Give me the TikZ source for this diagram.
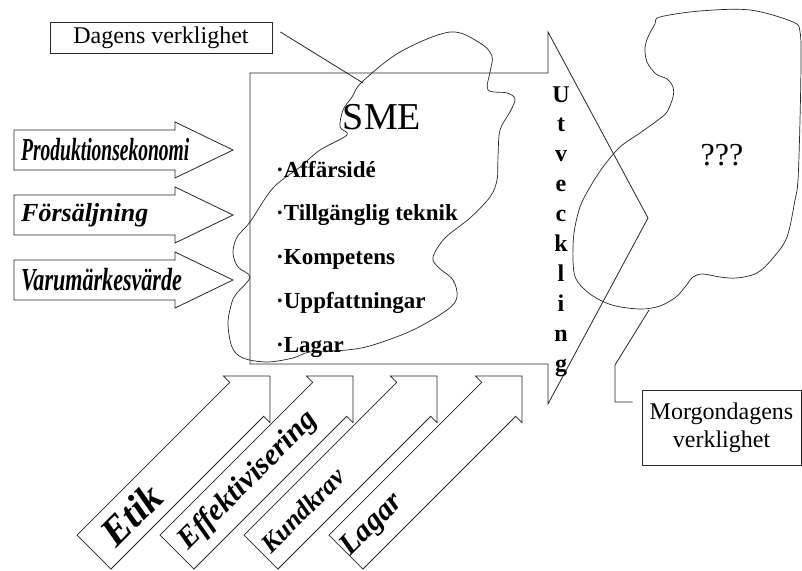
\documentclass[tikz,border=0pt]{standalone}
\usepackage{fontspec}
\setmainfont{Liberation Serif}
\usetikzlibrary{positioning}

\begin{document}
\begin{tikzpicture}[x=1pt, y=-1pt,
    outline/.style={draw=black!85, line width=0.8pt, line join=miter},
    wobble/.style={draw=black!85, line width=0.7pt},
    labelbox/.style={draw=black!85, line width=0.8pt, inner sep=0pt},
    inflow/.style={anchor=west, inner sep=0pt, font=\fontsize{32}{34}\selectfont\bfseries\itshape},
    item/.style={anchor=base west, inner sep=0pt, font=\fontsize{23}{25}\selectfont\bfseries},
    letter/.style={anchor=base, inner sep=0pt, font=\fontsize{24}{26}\selectfont\bfseries}]
	\fill[white] (0,0) rectangle (802,570);
	\useasboundingbox (0,0) rectangle (802,570);

	% big arrow (SME -> utveckling)
	\draw[outline] (250,73) -- (548,73) -- (548,32) -- (648,218) -- (548,404)
		-- (548,364) -- (250,364) -- cycle;

	% today
	\draw[wobble] plot[smooth cycle, tension=0.55] coordinates {
		(362,82) (400,52) (450,32) (480,43) (492,56) (490,72) (488,90) (507,93)
		(515,99) (510,112) (500,130) (498,157) (497,180) (490,197) (470,218)
		(445,238) (433,257) (438,267) (453,280) (457,297) (447,310) (413,330)
		(373,345) (347,350) (310,352) (293,358) (267,362) (243,358) (232,347)
		(228,323) (232,302) (237,293) (250,277) (238,267) (233,253) (237,237)
		(250,222) (273,188) (300,167) (320,150) (347,135) (340,127) (343,110)
		(352,97)};

	% tomorrow
	\draw[wobble] plot[smooth cycle, tension=0.55] coordinates {
		(660,17) (700,11) (750,10) (793,22) (800,32) (801,60) (800,120)
		(798,180) (795,200) (787,237) (773,258) (757,273) (737,278) (720,277)
		(703,274) (693,277) (685,287) (676,297) (660,306) (640,309) (612,305)
		(590,294) (576,279) (573,260) (574,233) (580,207) (590,187) (603,167)
		(620,147) (640,133) (658,120) (667,112) (673,97) (673,87) (667,79)
		(656,74) (647,62) (645,48) (648,37) (655,24)};

	\node (sme) at (382,117) {\fontsize{38}{40}\selectfont SME};
	\node[item] (i1) at (276,177) {\textperiodcentered Affärsidé};
	\node[item] (i2) at (276,220) {\textperiodcentered Tillgänglig teknik};
	\node[item] (i3) at (276,264) {\textperiodcentered Kompetens};
	\node[item] (i4) at (276,308) {\textperiodcentered Uppfattningar};
	\node[item] (i5) at (276,352) {\textperiodcentered Lagar};

	\foreach \l [count=\i from 0] in {U,t,v,e,c,k,l,i,n,g}
		\node[letter] (u\i) at (561,{102+29.9*\i}) {\l};

	\node (q) at (722,155) {\fontsize{32}{34}\selectfont ???};

	% inflows from the left
	\foreach \yc/\lab/\sx [count=\i] in {150/Produktionsekonomi/0.61, 215/\fontsize{26}{28}\selectfont Försäljning/1, 280/Varumärkesvärde/0.69} {
		\draw[outline, fill=white] (14,\yc-20) -- (175,\yc-20) -- (175,\yc-28) -- (233,\yc)
			-- (175,\yc+28) -- (175,\yc+20) -- (14,\yc+20) -- cycle;
		\node[inflow] (f\i) at (21,\yc) {\scalebox{\sx}[1]{\lab}};
	}

	% inflows from below
	\foreach \tx/\lab/\d/\fs [count=\i] in {270/Etik/196/40, 353/Effektivisering/148/30,
			437/Kundkrav/190/26, 522/Lagar/211/30} {
		\begin{scope}[shift={(\tx,376)}, rotate=45]
			\draw[outline, fill=white] (0,0) -- (-33,33) -- (-33,24) -- (-249,24)
				-- (-249,-24) -- (-33,-24) -- (-33,-33) -- cycle;
			\node[rotate=45, inner sep=0pt, font=\fontsize{\fs}{\fs}\selectfont\bfseries\itshape]
				(b\i) at (-\d,0) {\lab};
		\end{scope}
	}

	% labels
	\node[labelbox, minimum width=222, minimum height=31,
		font=\fontsize{24}{26}\selectfont] (dagens) at (161,37.5) {Dagens verklighet};
	\node[labelbox, minimum width=159, minimum height=75, align=center,
		font=\fontsize{24}{28}\selectfont] (morgon) at (721.5,427.5) {Morgondagens\\verklighet};

	\coordinate (dc) at (363,83);
	\coordinate (ds) at ([xshift=8pt, yshift=5.5pt]dagens.east);
	\draw[outline] (ds) -- (dc);

	\coordinate (mc) at (649,310);
	\coordinate (mk) at (615,365);
	\coordinate (mb) at ([xshift=-9pt, yshift=25.5pt]morgon.west);
	\draw[outline] (mc) -- (mk) |- (mb);
\end{tikzpicture}
\end{document}
